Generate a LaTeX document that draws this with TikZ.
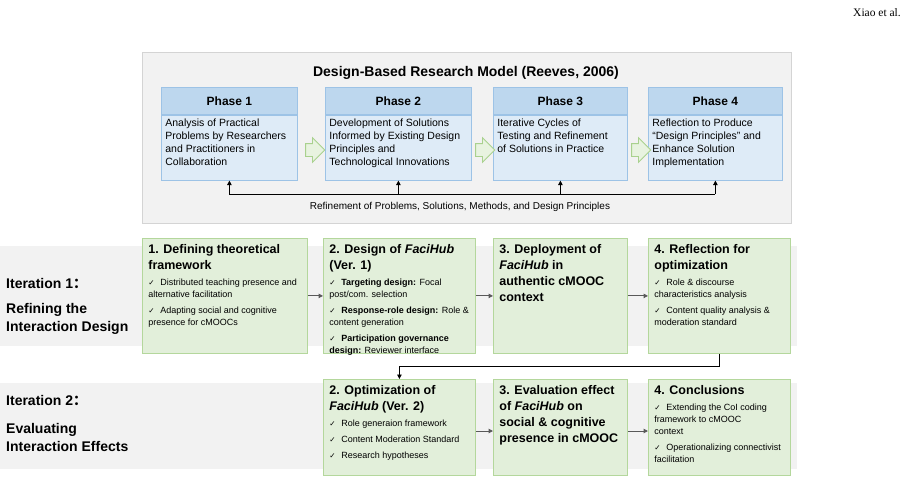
\documentclass[tikz,border=0pt]{standalone}
\usepackage{fontspec}
\setmainfont{Liberation Sans}
\newfontfamily\runhead{Liberation Serif}
\newfontfamily\symfont{DejaVu Sans}
\newfontfamily\cjk{Noto Sans CJK SC}
\usetikzlibrary{positioning,shapes.arrows,arrows.meta}

\definecolor{phasehd}{HTML}{BDD7EE}
\definecolor{phasebd}{HTML}{DEEBF7}
\definecolor{phaseln}{HTML}{9DC3E6}
\definecolor{stepfill}{HTML}{E2EFDA}
\definecolor{stepline}{HTML}{B4D79C}
\definecolor{arrowfill}{HTML}{E8F3E0}
\definecolor{arrowline}{HTML}{A9D18E}
\definecolor{bandgray}{HTML}{F2F2F2}
\definecolor{framegray}{HTML}{D4D4D4}
\definecolor{flowgray}{HTML}{595959}

% top aligned text block of fixed size
\newcommand{\steptext}[3]{\parbox[c][#2][t]{#1}{\raggedright #3}}
\newcommand{\steptitle}[1]{{\fontsize{12.5}{16}\selectfont\bfseries #1\par}\fontsize{9}{12}\selectfont}
\newcommand{\chk}[1]{\par\vspace{4pt}\hangindent=12pt\hangafter=1\noindent\makebox[12pt][l]{\symfont\fontsize{7.5}{9}\selectfont ✓}#1}

\tikzset{
  phasehead/.style={draw=phaseln, fill=phasehd, line width=0.8pt, minimum height=27pt,
    font=\fontsize{12}{14}\selectfont\bfseries, anchor=north west},
  phasebody/.style={draw=phaseln, fill=phasebd, line width=0.8pt, inner sep=4pt,
    font=\fontsize{10.5}{13}\selectfont},
  bigarrow/.style={single arrow, draw=arrowline, fill=arrowfill, line width=0.8pt,
    inner sep=6pt, single arrow head extend=6pt, minimum height=18pt},
  stepbox/.style={draw=stepline, fill=stepfill, line width=0.8pt, inner sep=6pt, anchor=north west},
  iterlabel/.style={font=\fontsize{14}{18}\selectfont\bfseries, anchor=base west, inner sep=0pt},
  flowarrow/.style={draw=flowgray, line width=1pt, -{Triangle[length=4.5pt,width=4.5pt]}},
  fbline/.style={draw=black, line width=0.9pt},
}

\begin{document}
\begin{tikzpicture}[x=1pt, y=-1pt]
\useasboundingbox (0,0) rectangle (908,491);

\node[font=\runhead\fontsize{11.5}{13}\selectfont, anchor=east, inner sep=0pt] (runner) at (901,13) {Xiao et al.};

% DBR model
\draw[fill=bandgray, draw=framegray, line width=0.8pt] (142,52) rectangle (791,223);
\node[font=\fontsize{14}{16}\selectfont\bfseries] (dbr) at (466,73) {Design-Based Research Model (Reeves, 2006)};

\node[phasehead, minimum width=136pt] (p1h) at (161,87) {Phase 1};
\node[phasebody, below=0pt of p1h] (p1b) {\steptext{128pt}{57pt}{Analysis of Practical\\Problems by Researchers\\and Practitioners in\\Collaboration}};
\node[phasehead, minimum width=146pt] (p2h) at (325,87) {Phase 2};
\node[phasebody, below=0pt of p2h] (p2b) {\steptext{138pt}{57pt}{Development of Solutions\\Informed by Existing Design\\Principles and\\Technological Innovations}};
\node[phasehead, minimum width=134pt] (p3h) at (493,87) {Phase 3};
\node[phasebody, below=0pt of p3h] (p3b) {\steptext{126pt}{57pt}{Iterative Cycles of\\Testing and Refinement\\of Solutions in Practice}};
\node[phasehead, minimum width=134pt] (p4h) at (648,87) {Phase 4};
\node[phasebody, below=0pt of p4h] (p4b) {\steptext{126pt}{57pt}{Reflection to Produce\\``Design Principles'' and\\Enhance Solution\\Implementation}};

\node[bigarrow] (g1) at (312,150) {};
\node[bigarrow] (g2) at (482,150) {};
\node[bigarrow] (g3) at (638,150) {};

\coordinate (fb) at (0,194);
\draw[fbline] (p1b.south |- fb) -- (p4b.south |- fb);
\foreach \p in {p1b,p2b,p3b,p4b}
  \draw[fbline, -{Triangle[length=4.5pt,width=4.5pt]}] (\p.south |- fb) -- (\p.south);
\node[font=\fontsize{10}{12}\selectfont] (refine) at (460,207) {Refinement of Problems, Solutions, Methods, and Design Principles};

% iteration bands
\fill[bandgray] (0,246) rectangle (797,346);
\fill[bandgray] (0,383) rectangle (797,469);

\node[iterlabel] (it1) at (6,288) {Iteration 1{\cjk ：}};
\node[iterlabel] (it1a) at (6,313) {Refining the};
\node[iterlabel] (it1b) at (6,331) {Interaction Design};
\node[iterlabel] (it2) at (6,405) {Iteration 2{\cjk ：}};
\node[iterlabel] (it2a) at (6,433) {Evaluating};
\node[iterlabel] (it2b) at (6,451) {Interaction Effects};

% iteration 1
\node[stepbox] (a1) at (142,238) {\steptext{153pt}{103pt}{\steptitle{1. Defining theoretical\\framework}%
  \chk{Distributed teaching presence and\\alternative facilitation}%
  \chk{Adapting social and cognitive\\presence for cMOOCs}}};
\node[stepbox] (a2) at (323,238) {\steptext{140pt}{103pt}{\steptitle{2. Design of \textit{FaciHub}\\(Ver. 1)}%
  \chk{\textbf{Targeting design:} Focal\\post/com. selection}%
  \chk{\textbf{Response-role design:} Role \&\\content generation}%
  \chk{\textbf{Participation governance}\\\textbf{design:} Reviewer interface}}};
\node[stepbox] (a3) at (493,238) {\steptext{122pt}{103pt}{\steptitle{3. Deployment of\\\textit{FaciHub} in\\authentic cMOOC\\context}}};
\node[stepbox] (a4) at (648,238) {\steptext{130pt}{103pt}{\steptitle{4. Reflection for\\optimization}%
  \chk{Role \& discourse\\characteristics analysis}%
  \chk{Content quality analysis \&\\moderation standard}}};

\draw[flowarrow] (a1) -- (a2);
\draw[flowarrow] (a2) -- (a3);
\draw[flowarrow] (a3) -- (a4);

% iteration 2
\node[stepbox] (c2) at (323,379) {\steptext{140pt}{84pt}{\steptitle{2. Optimization of\\\textit{FaciHub} (Ver. 2)}%
  \chk{Role generaion framework}%
  \chk{Content Moderation Standard}%
  \chk{Research hypotheses}}};
\node[stepbox] (c3) at (493,379) {\steptext{122pt}{84pt}{\steptitle{3. Evaluation effect\\of \textit{FaciHub} on\\social \& cognitive\\presence in cMOOC}}};
\node[stepbox] (c4) at (648,379) {\steptext{130pt}{84pt}{\steptitle{4. Conclusions}%
  \chk{Extending the CoI coding\\framework to cMOOC\\context}%
  \chk{Operationalizing connectivist\\facilitation}}};

\coordinate (row2) at (0,431);
\draw[flowarrow] (c2.east |- row2) -- (c3.west |- row2);
\draw[flowarrow] (c3.east |- row2) -- (c4.west |- row2);

\draw[fbline, -{Triangle[length=4.5pt,width=4.5pt]}] (a4.south) -- ++(0,13) -| (c2.north);
\end{tikzpicture}
\end{document}
